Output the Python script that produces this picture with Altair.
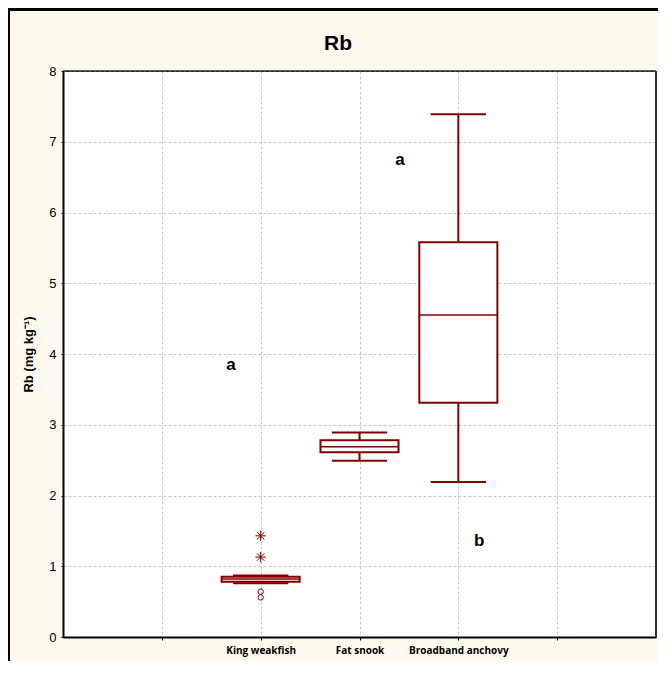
import altair as alt
import pandas as pd

# ---- data ----
species = ["King weakfish", "Fat snook", "Broadband anchovy"]
xpos = [2, 3, 4]
whisker_low = [0.76, 2.49, 2.19]
q1 = [0.78, 2.61, 3.31]
median = [0.82, 2.69, 4.55]
q3 = [0.85, 2.78, 5.58]
whisker_high = [0.87, 2.89, 7.39]

outlier_x = [2, 2]
outlier_y = [0.64, 0.56]
extreme_x = [2, 2]
extreme_y = [1.43, 1.13]

letters = ["a", "a", "b"]
letter_x = [1.70, 3.41, 4.21]
letter_y = [3.84, 6.74, 1.36]

y_ticks = [0, 1, 2, 3, 4, 5, 6, 7, 8]
x_ticks = [1, 2, 3, 4, 5]
title_text = ["Rb"]

BOX_HALF = 0.395
CAP_HALF = 0.28
RED = "#800000"
BG = "#FEF9EE"
W, H = 593, 566

box = pd.DataFrame({
    "species": species, "x": xpos,
    "lo": whisker_low, "q1": q1, "med": median, "q3": q3, "hi": whisker_high,
})
box["bx1"] = box["x"] - BOX_HALF
box["bx2"] = box["x"] + BOX_HALF
box["cx1"] = box["x"] - CAP_HALF
box["cx2"] = box["x"] + CAP_HALF

outl = pd.DataFrame({"x": outlier_x, "y": outlier_y})
extr = pd.DataFrame({"x": extreme_x, "y": extreme_y})
lett = pd.DataFrame({"t": letters, "x": letter_x, "y": letter_y})
ttl = pd.DataFrame({"t": title_text})

label_map = "{" + ",".join(f"'{p}':'{s}'" for p, s in zip(xpos, species)) + "}"

xscale = alt.Scale(domain=[0, 6], nice=False, zero=False)
yscale = alt.Scale(domain=[0, 8], nice=False)

xaxis = alt.Axis(
    values=x_ticks, title=None, grid=True, gridDash=[3, 2], gridColor="#c8c8c8",
    labelExpr=f"{label_map}[datum.value] || ''", labelFont="Open Sans",
    labelFontWeight="bold", labelFontSize=10, labelColor="black", labelPadding=5,
    tickSize=3, tickColor="black", domainColor="black", domainWidth=2,
)
yaxis = alt.Axis(
    values=y_ticks, format="d", title="Rb (mg kg⁻¹)", grid=True, gridDash=[3, 2],
    gridColor="#c8c8c8",
    labelFont="Liberation Sans", labelFontSize=13, labelColor="black", labelPadding=5,
    tickSize=2, tickColor="black", domainColor="black", domainWidth=2,
    titleFont="Liberation Sans", titleFontSize=13, titleFontWeight="bold",
    titleColor="black", titlePadding=13,
)

base = alt.Chart(box)

whisk = base.mark_rule(color=RED, strokeWidth=2).encode(
    x=alt.X("x:Q", scale=xscale, axis=xaxis),
    y=alt.Y("lo:Q", scale=yscale, axis=yaxis),
    y2="hi:Q",
)
cap_lo = base.mark_rule(color=RED, strokeWidth=2).encode(
    x=alt.X("cx1:Q", scale=xscale), x2="cx2:Q", y=alt.Y("lo:Q", scale=yscale)
)
cap_hi = base.mark_rule(color=RED, strokeWidth=2).encode(
    x=alt.X("cx1:Q", scale=xscale), x2="cx2:Q", y=alt.Y("hi:Q", scale=yscale)
)
rect = base.mark_rect(fill="white", stroke=RED, strokeWidth=2).encode(
    x=alt.X("bx1:Q", scale=xscale), x2="bx2:Q",
    y=alt.Y("q1:Q", scale=yscale), y2="q3:Q",
)
med = base.mark_rule(color=RED, strokeWidth=1.5).encode(
    x=alt.X("bx1:Q", scale=xscale), x2="bx2:Q", y=alt.Y("med:Q", scale=yscale)
)
outs = alt.Chart(outl).mark_point(shape="circle", filled=False, color=RED,
                                  size=30, strokeWidth=1, opacity=1).encode(
    x=alt.X("x:Q", scale=xscale), y=alt.Y("y:Q", scale=yscale)
)
star = "M-1,0L1,0M0,-1L0,1M-0.7,-0.7L0.7,0.7M-0.7,0.7L0.7,-0.7"
extrs = alt.Chart(extr).mark_point(shape=star, filled=False, color=RED,
                                   size=110, strokeWidth=1, opacity=1).encode(
    x=alt.X("x:Q", scale=xscale), y=alt.Y("y:Q", scale=yscale)
)
txt = alt.Chart(lett).mark_text(font="Liberation Sans", fontSize=17, fontWeight="bold",
                                color="black").encode(
    x=alt.X("x:Q", scale=xscale), y=alt.Y("y:Q", scale=yscale), text="t:N"
)

# chart title as text placed above the plot
title = alt.Chart(ttl).mark_text(font="Liberation Sans", fontSize=21, fontWeight="bold",
                                 color="black", baseline="alphabetic", clip=False).encode(
    x=alt.value(275), y=alt.value(-21), text="t:N"
)

# solid top and right frame edges of the plot area
frame_top = alt.Chart(ttl).mark_rule(color="#222222", strokeWidth=1.5, clip=False).encode(
    x=alt.value(0), x2=alt.value(W), y=alt.value(0)
)
frame_right = alt.Chart(ttl).mark_rule(color="#333333", strokeWidth=2, clip=False).encode(
    x=alt.value(W), y=alt.value(0), y2=alt.value(H)
)

# decorative frame of the original figure (top black bar, left border)
topbar = alt.Chart(ttl).mark_rect(color="black", clip=False).encode(
    x=alt.value(-60), x2=alt.value(640), y=alt.value(-63), y2=alt.value(-60)
)
leftbar = alt.Chart(ttl).mark_rect(color="black", clip=False).encode(
    x=alt.value(-55), x2=alt.value(-53), y=alt.value(-63), y2=alt.value(610)
)

chart = alt.layer(whisk, cap_lo, cap_hi, rect, med, outs, extrs, txt,
                  title, frame_top, frame_right, topbar, leftbar).properties(
    width=W, height=H,
    autosize=alt.AutoSizeParams(type="none"),
    padding={"left": 55, "top": 63, "right": 2, "bottom": 24},
    background=BG,
).configure_view(fill="white", stroke="black", strokeWidth=1)

chart.save("out.html", embed_options={"renderer": "svg", "actions": False})
